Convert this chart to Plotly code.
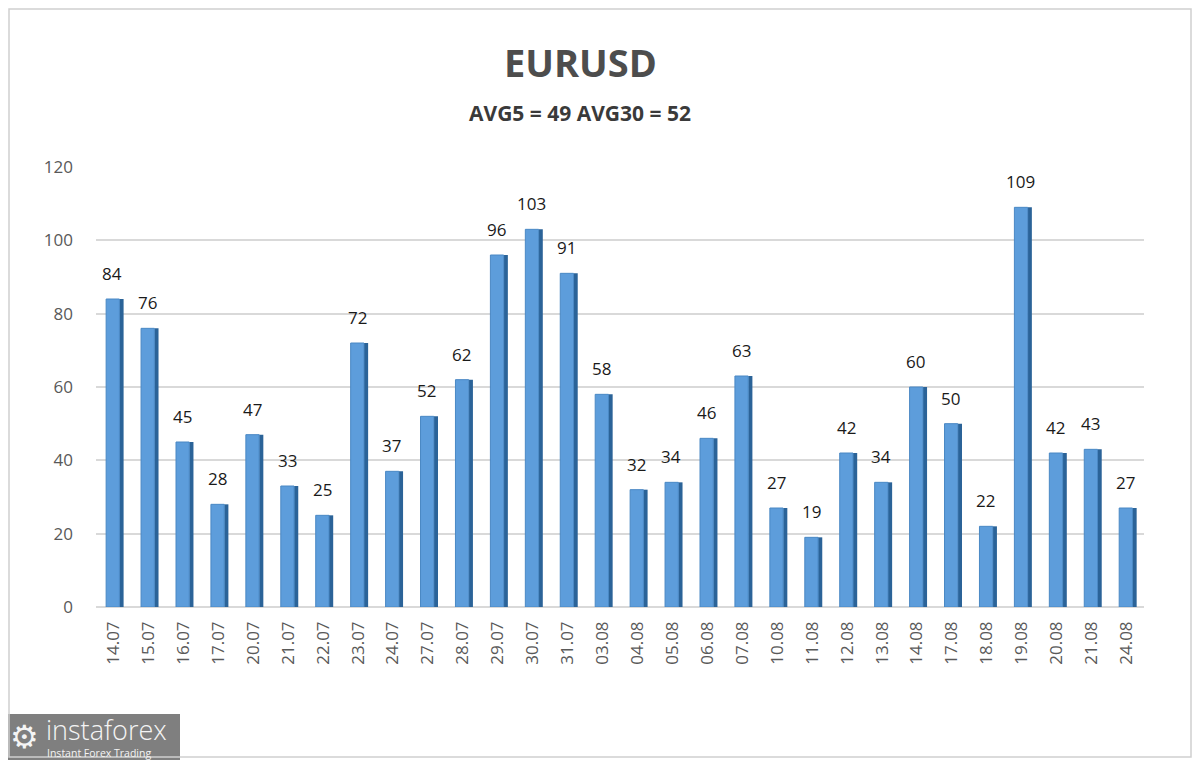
import plotly.graph_objects as go

dates = ["14.07", "15.07", "16.07", "17.07", "20.07", "21.07", "22.07", "23.07", "24.07", "27.07",
         "28.07", "29.07", "30.07", "31.07", "03.08", "04.08", "05.08", "06.08", "07.08", "10.08",
         "11.08", "12.08", "13.08", "14.08", "17.08", "18.08", "19.08", "20.08", "21.08", "24.08"]
volatility = [84, 76, 45, 28, 47, 33, 25, 72, 37, 52,
              62, 96, 103, 91, 58, 32, 34, 46, 63, 27,
              19, 42, 34, 60, 50, 22, 109, 42, 43, 27]
y_ticks = [0, 20, 40, 60, 80, 100, 120]

# page body has an 8px margin, so the figure is drawn 8px smaller and shifted
OFF = 8
W, H = 1200 - OFF, 760 - OFF
L, R, T, B = 96 - OFF, 56, 167 - OFF, 153


def px_x(px):
    return (px - OFF - L) / (W - L - R)


def px_y(py):
    return (H - B - (py - OFF)) / (H - T - B)


fig = go.Figure()

# dark side face of the "3d" bars
fig.add_trace(go.Bar(x=dates, y=volatility, width=0.12, offset=0.17,
                     marker=dict(color="#2b6398", line=dict(width=0)),
                     hoverinfo="skip", showlegend=False))
# front face
fig.add_trace(go.Bar(x=dates, y=volatility, width=0.38, offset=-0.21,
                     marker=dict(color="#5d9ddb", line=dict(color="#4a88c4", width=1)),
                     showlegend=False))

annotations = []
for i, v in enumerate(volatility):
    annotations.append(dict(x=i, y=v, text=str(v), showarrow=False, xanchor="center",
                            yanchor="bottom", yshift=12, xshift=-1,
                            font=dict(family="Open Sans", size=17, color="#1a1a1a")))

annotations += [
    dict(text="<b>EURUSD</b>", x=px_x(580), y=px_y(62), xref="paper", yref="paper",
         xanchor="center", yanchor="middle", showarrow=False,
         font=dict(size=38, color="#4d4d4d", family="Open Sans")),
    dict(text="<b>AVG5 = 49 AVG30 = 52</b>", x=px_x(580), y=px_y(113), xref="paper",
         yref="paper", xanchor="center", yanchor="middle", showarrow=False,
         font=dict(size=21, color="#3a3a3a", family="Open Sans")),
    dict(text="instaforex", x=px_x(44), y=px_y(729), xref="paper", yref="paper",
         xanchor="left", yanchor="middle", showarrow=False,
         font=dict(size=27, color="#f4f4f4", family="Open Sans", weight=300)),
    dict(text="Instant Forex Trading", x=px_x(45), y=px_y(753), xref="paper", yref="paper",
         xanchor="left", yanchor="middle", showarrow=False,
         font=dict(size=10.5, color="#f4f4f4", family="Open Sans")),
    dict(text="⚙", x=px_x(24), y=px_y(735), xref="paper", yref="paper",
         xanchor="center", yanchor="middle", showarrow=False,
         font=dict(size=32, color="#f4f4f4")),
]

fig.update_layout(
    width=W, height=H,
    margin=dict(l=L, r=R, t=T, b=B),
    barmode="overlay",
    paper_bgcolor="white",
    plot_bgcolor="white",
    font=dict(family="Open Sans", color="#595959"),
    xaxis=dict(type="category", range=[-0.5, len(dates) - 0.5], tickangle=-90,
               tickfont=dict(size=17, color="#595959"),
               showgrid=False, showline=False, ticks="", ticklabelstandoff=10),
    yaxis=dict(range=[0, 120], tickvals=y_ticks, tickfont=dict(size=17, color="#595959"),
               showgrid=True, gridcolor="#d9d9d9", gridwidth=1.5, zeroline=True,
               zerolinecolor="#d9d9d9", zerolinewidth=1.5, ticks="", ticklabelstandoff=22),
    annotations=annotations,
    shapes=[
        dict(type="rect", xref="paper", yref="paper", x0=px_x(9), x1=px_x(1191),
             y0=px_y(757), y1=px_y(9), line=dict(color="#d0d0d0", width=1.5)),
        dict(type="rect", xref="paper", yref="paper", x0=px_x(8), x1=px_x(180),
             y0=px_y(760), y1=px_y(714), fillcolor="#7f7f7f", line=dict(width=0),
             layer="below"),
    ],
)

fig.write_html("out.html")
